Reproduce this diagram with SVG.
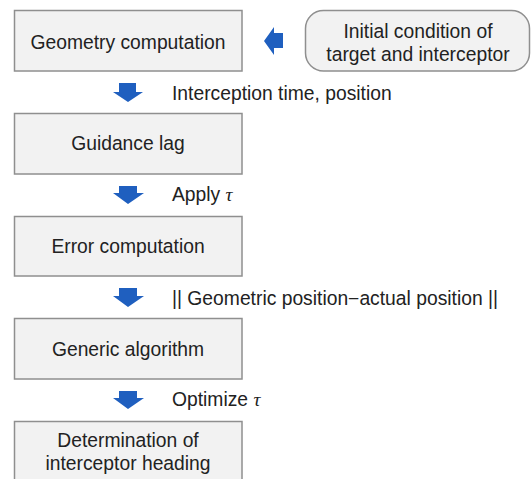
<svg xmlns="http://www.w3.org/2000/svg" width="531" height="479" viewBox="0 0 531 479">
<style>
.box{fill:#f2f2f2;stroke:#8f8f8f;stroke-width:1.5}
.t{font-family:"Liberation Sans",Arial,sans-serif;font-size:19.3px;fill:#222222}
.c{text-anchor:middle}
.tau{font-family:"Liberation Serif",serif;font-style:italic}
.arr{fill:#1f5fbf}
</style>
<rect width="531" height="479" fill="#ffffff"/>
<g id="geometry"><rect class="box" x="14.5" y="10.5" width="227.5" height="60.5"/><text class="t c" x="128" y="49">Geometry computation</text></g>
<g id="initial"><rect class="box" x="305.5" y="10.5" width="224" height="60.5" rx="18"/><text class="t c" x="418" y="38">Initial condition of</text><text class="t c" x="418" y="61">target and interceptor</text></g>
<g id="guidance"><rect class="box" x="14.5" y="113.5" width="227.5" height="60.5"/><text class="t c" x="128" y="150">Guidance lag</text></g>
<g id="error"><rect class="box" x="14.5" y="216.5" width="227.5" height="59.5"/><text class="t c" x="128" y="253">Error computation</text></g>
<g id="generic"><rect class="box" x="14.5" y="318.5" width="227.5" height="60.5"/><text class="t c" x="128" y="356">Generic algorithm</text></g>
<g id="determination"><rect class="box" x="14.5" y="421.5" width="227.5" height="62"/><text class="t c" x="128" y="447">Determination of</text><text class="t c" x="128" y="470">interceptor heading</text></g>
<g id="connectors">
<polygon class="arr" points="283,33 274,33 274,27 264,41 274,55 274,48 283,48"/>
<polygon class="arr" points="119,83 136,83 136,92 143,92 128,102 113,92 119,92"/>
<polygon class="arr" points="119,186 137,186 137,193 144,193 128,204 113,193 119,193"/>
<polygon class="arr" points="119,288 137,288 137,296 144,296 128,307 113,296 119,296"/>
<polygon class="arr" points="119,391 137,391 137,398 144,398 128,409 113,398 119,398"/>
<text class="t" x="172" y="100">Interception time, position</text>
<text class="t" x="172" y="201">Apply <tspan class="tau">τ</tspan></text>
<text class="t" x="172" y="305">|| Geometric position−actual position ||</text>
<text class="t" x="172" y="406">Optimize <tspan class="tau">τ</tspan></text>
</g>
</svg>
